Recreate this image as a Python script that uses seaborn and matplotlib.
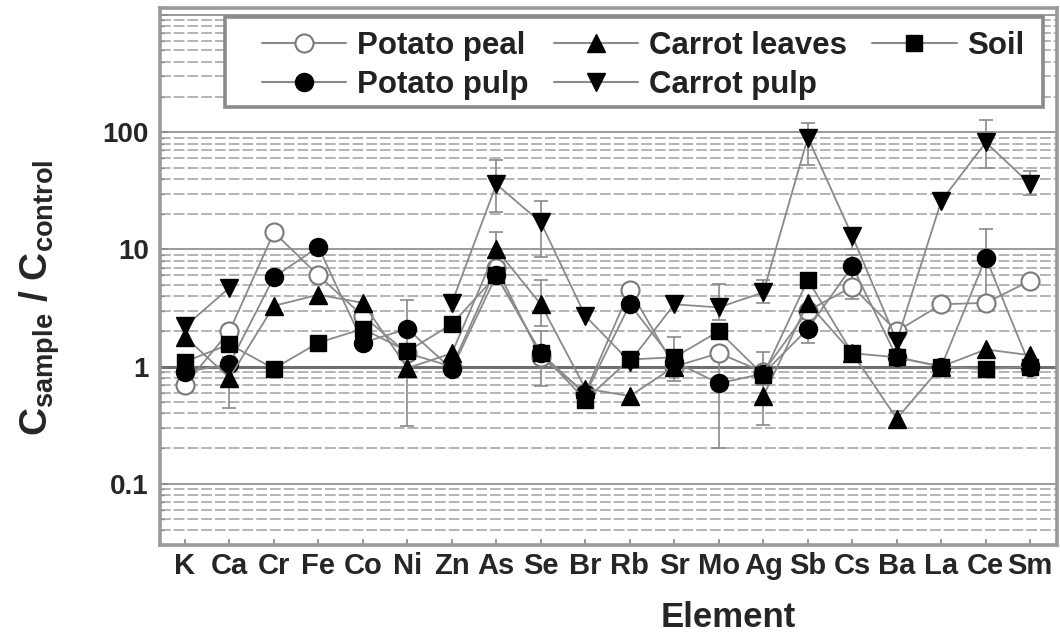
import numpy as np
import pandas as pd
import matplotlib
matplotlib.use("Agg")
import matplotlib.pyplot as plt
from matplotlib.lines import Line2D
from matplotlib.patches import Rectangle
from matplotlib.ticker import LogLocator, FixedLocator, FixedFormatter, NullFormatter
import seaborn as sns

# ---------------- data ----------------
elements = ['K', 'Ca', 'Cr', 'Fe', 'Co', 'Ni', 'Zn', 'As', 'Se', 'Br',
            'Rb', 'Sr', 'Mo', 'Ag', 'Sb', 'Cs', 'Ba', 'La', 'Ce', 'Sm']
nan = np.nan

potato_peal   = [0.7, 2.0, 14.0, 6.0, 2.7, 1.3, 1.0, 7.0, 1.2, 0.6,
                 4.5, 1.0, 1.3, 0.9, 3.0, 4.8, 2.0, 3.4, 3.5, 5.4]
potato_pulp   = [0.9, 1.05, 5.8, 10.5, 1.6, 2.1, 0.95, 6.0, 1.3, 0.58,
                 3.4, 1.1, 0.72, 0.87, 2.1, 7.2, 1.2, 1.0, 8.5, 1.0]
carrot_leaves = [1.8, 0.8, 3.3, 4.1, 3.5, 0.97, 1.3, 10.0, 3.4, 0.65,
                 0.56, 1.0, nan, 0.56, 3.5, 1.3, 0.36, 1.0, 1.4, 1.25]
carrot_pulp   = [2.2, 4.7, nan, nan, nan, nan, 3.5, 36.0, 17.0, 2.7,
                 1.1, 3.4, 3.2, 4.3, 90.0, 13.0, 1.65, 26.0, 82.0, 36.0]
soil          = [1.1, 1.55, 0.96, 1.6, 2.1, 1.35, 2.3, 6.0, 1.3, 0.52,
                 1.15, 1.2, 2.0, 0.85, 5.5, 1.3, 1.2, 1.0, 0.95, 1.0]

# error bar ends (lower, upper); nan = no bar visible
potato_peal_lo   = [nan]*15 + [3.8, nan, nan, nan, nan]
potato_peal_hi   = [nan]*15 + [6.0, nan, nan, nan, nan]
potato_pulp_lo   = [nan, nan, nan, nan, nan, 1.5, nan, nan, 0.68, nan,
                    nan, nan, 0.20, 0.70, 1.6, 5.0, nan, nan, 3.0, nan]
potato_pulp_hi   = [nan, nan, nan, nan, nan, 3.7, nan, nan, 2.0, nan,
                    nan, nan, 1.2, 1.34, 2.6, 9.0, nan, nan, 15.0, nan]
carrot_leaves_lo = [nan, 0.44, nan, nan, nan, 0.31, nan, 7.0, 2.2, nan,
                    nan, nan, nan, 0.32, nan, nan, 0.31, nan, nan, nan]
carrot_leaves_hi = [nan, 1.2, nan, nan, nan, 1.2, nan, 14.0, 5.5, nan,
                    nan, nan, nan, 0.8, nan, nan, 0.42, nan, nan, nan]
carrot_pulp_lo   = [nan, nan, nan, nan, nan, nan, nan, 21.0, 8.6, nan,
                    nan, nan, 2.5, 3.5, 53.0, 10.0, nan, nan, 50.0, 29.0]
carrot_pulp_hi   = [nan, nan, nan, nan, nan, nan, nan, 58.0, 26.0, nan,
                    nan, nan, 5.1, 5.5, 120.0, 15.0, nan, nan, 128.0, 47.0]
soil_lo          = [nan]*11 + [0.75] + [nan]*8
soil_hi          = [nan]*11 + [1.8] + [nan]*8

series_names = ['Potato peal', 'Potato pulp', 'Carrot leaves', 'Carrot pulp', 'Soil']
series_vals = [potato_peal, potato_pulp, carrot_leaves, carrot_pulp, soil]
series_lo = [potato_peal_lo, potato_pulp_lo, carrot_leaves_lo, carrot_pulp_lo, soil_lo]
series_hi = [potato_peal_hi, potato_pulp_hi, carrot_leaves_hi, carrot_pulp_hi, soil_hi]

# ---------------- styling ----------------
sns.set_theme(style='white')
plt.rcParams['font.family'] = ['Liberation Sans', 'DejaVu Sans']
plt.rcParams['font.weight'] = 'bold'
plt.rcParams['mathtext.fontset'] = 'custom'
plt.rcParams['mathtext.rm'] = 'Liberation Sans'
plt.rcParams['mathtext.bf'] = 'Liberation Sans:bold'

GRAY = '#8a8a8a'
styles = {
    'Potato peal':   dict(marker='o', ms=13, mfc='white', mec='#7a7a7a', mew=1.5),
    'Potato pulp':   dict(marker='o', ms=13, mfc='black', mec='black', mew=1),
    'Carrot leaves': dict(marker='^', ms=13, mfc='black', mec='black', mew=1),
    'Carrot pulp':   dict(marker='v', ms=13, mfc='black', mec='black', mew=1),
    'Soil':          dict(marker='s', ms=12, mfc='black', mec='black', mew=1),
}

fig = plt.figure(figsize=(10.6, 6.36), dpi=100)
ax = fig.add_axes([160/1060, 1 - 545/636, (1057-160)/1060, (545-8)/636])
ax.set_yscale('log')

pos = np.arange(len(elements))

# horizontal grid
ax.yaxis.set_major_locator(FixedLocator([0.1, 1, 10, 100, 1000]))
ax.yaxis.set_major_formatter(FixedFormatter(['0.1', '1', '10', '100', '']))
ax.yaxis.set_minor_locator(LogLocator(base=10, subs=np.arange(2, 10), numticks=20))
ax.yaxis.set_minor_formatter(NullFormatter())
ax.grid(which='major', axis='y', color='#9a9a9a', lw=1.4, ls='-')
ax.grid(which='minor', axis='y', color='#a0a0a0', lw=1.1, ls=(0, (7, 2)))
ax.grid(which='major', axis='x', visible=False)
ax.axhline(1, color='#6e6e6e', lw=2.2, zorder=1.5)
ax.set_axisbelow(True)

for name, vals, lo, hi in zip(series_names, series_vals, series_lo, series_hi):
    v = np.array(vals, float)
    l = np.array(lo, float)
    h = np.array(hi, float)
    m = np.isfinite(l) & np.isfinite(v)
    if m.any():
        ax.errorbar(pos[m], v[m], yerr=[v[m] - l[m], h[m] - v[m]], fmt='none',
                    ecolor=GRAY, elinewidth=1.2, capsize=5, capthick=1.2, zorder=2)
    df = pd.DataFrame({'x': pos, 'y': v})
    # a missing value breaks the line (contiguous runs are drawn separately)
    df['run'] = df['y'].isna().cumsum()
    for _, seg in df.dropna().groupby('run'):
        sns.lineplot(data=seg, x='x', y='y', ax=ax, color=GRAY, lw=1.3,
                     estimator=None, sort=False, legend=False, zorder=3,
                     **styles[name])

ax.set_xlim(-0.56, 19.6)
ax.set_ylim(0.03, 1150)
ax.set_xticks(pos)
ax.set_xticklabels(elements)
ax.set_xlabel('')
ax.set_ylabel('')

ax.tick_params(axis='x', which='major', direction='in', length=4, width=1.2,
               color='#8a8a8a', labelsize=21, pad=5, bottom=True)
ax.tick_params(axis='y', which='major', direction='in', length=6, width=1.2,
               color='#8a8a8a', labelsize=20, pad=8, left=True)
ax.tick_params(axis='y', which='minor', direction='in', length=3, width=1,
               color='#8a8a8a', left=True)
for lab in ax.get_xticklabels() + ax.get_yticklabels():
    lab.set_fontweight('bold')

for sp in ax.spines.values():
    sp.set_color('#9a9a9a')
    sp.set_linewidth(2.6)

ax.set_xlabel('Element', fontsize=25, fontweight='bold', va='top')
ax.xaxis.set_label_coords(0.634, -0.104)
ax.set_ylabel(r'$\mathbf{C_{sample}}$ $\mathbf{/}$ $\mathbf{C_{control}}$', fontsize=28)
ax.yaxis.set_label_coords(-0.109, 0.46)

# legend (content placed without frame; frame drawn as a box like the original)
handles = []
for name in ['Potato peal', 'Potato pulp', 'Carrot leaves', 'Carrot pulp', 'Soil']:
    handles.append(Line2D([], [], color=GRAY, lw=1.5, **styles[name]))
leg = ax.legend(handles=handles,
                labels=['Potato peal', 'Potato pulp', 'Carrot leaves', 'Carrot pulp', 'Soil'],
                ncol=3, loc='upper left', bbox_to_anchor=((262-160)/897, 1 - (31-8)/537),
                borderaxespad=0, borderpad=0, fontsize=22.5, handlelength=2.7,
                handletextpad=0.35, columnspacing=0.8, labelspacing=0.28,
                frameon=False)
for t in leg.get_texts():
    t.set_fontweight('bold')
    t.set_color('#222222')
leg.set_zorder(6)
box = Rectangle((225/1060, 1 - 107/636), 818/1060, 90/636, transform=fig.transFigure,
                facecolor='white', edgecolor='#8a8a8a', lw=2.6, zorder=5)
fig.add_artist(box)
fig.add_artist(leg)

fig.savefig('out.png', dpi=100, facecolor='white')
